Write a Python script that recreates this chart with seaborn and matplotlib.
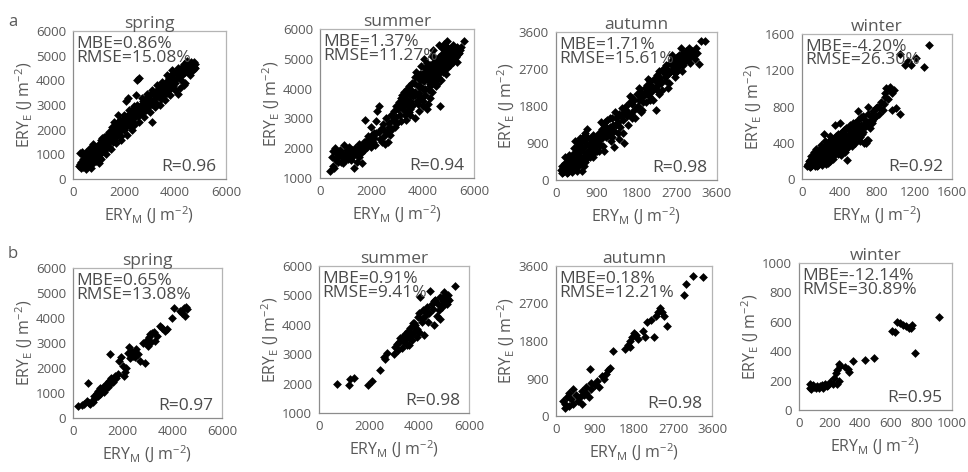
import matplotlib
matplotlib.use('Agg')
import pandas as pd
import matplotlib.pyplot as plt
import seaborn as sns

# Settings
sns.set_style('white')
plt.rcParams['font.family'] = ['Open Sans', 'DejaVu Sans']
plt.rcParams['mathtext.fontset'] = 'custom'
plt.rcParams['mathtext.rm'] = 'Open Sans'
plt.rcParams['mathtext.it'] = 'Open Sans:italic'
plt.rcParams['mathtext.bf'] = 'Open Sans:bold'

# ---- data: (ERY_M, ERY_E) ----
a_spring = [(230,520),(260,1060),(280,620),(300,450),(320,700),(340,1080),(360,540),(380,820),(400,480),(420,640),
    (440,950),(460,560),(480,720),(500,1100),(520,600),(540,850),(560,500),(580,680),(600,1000),(620,760),
    (640,560),(660,900),(680,1250),(700,700),(720,820),(740,1050),(760,620),(780,940),(800,1420),(820,760),
    (840,1150),(860,880),(880,1000),(900,720),(920,1200),(940,860),(960,1050),(980,1350),(1000,900),
    (1020,1150),(1040,1450),(1060,1000),(1080,1300),(1100,1600),(1120,1100),(1150,1400),(1180,1250),(1200,1700),
    (1230,1350),(1260,1550),(1290,1200),(1320,1800),(1350,1450),(1380,1650),(1410,1300),(1440,1900),(1470,1550),
    (1500,1750),(1530,2100),(1560,1500),(1590,1850),(1620,2000),(1650,1650),(1680,2200),(1710,1800),(1740,2000),
    (1770,2600),(1800,1900),(1830,2150),(1860,2400),(1890,1750),(1920,2250),(1950,2050),(1980,2450),
    (2010,2000),(2040,2300),(2070,3150),(2100,2150),(2130,2550),(2160,3300),(2190,2350),(2220,2150),(2250,2650),
    (2280,2450),(2310,2800),(2340,2300),(2370,2600),(2400,2950),(2430,2500),(2460,3400),(2490,2700),(2520,4000),
    (2550,2550),(2580,4100),(2610,2850),(2640,2650),(2670,3000),(2700,2800),(2730,3150),(2760,2700),(2790,3000),
    (2820,2900),(2850,3250),(2880,2800),(2910,3100),(2940,3350),(2970,2950),
    (3000,3200),(3040,3450),(3080,2300),(3110,3050),(3140,3500),(3170,3250),(3200,3400),(3240,3100),(3280,3600),
    (3320,3350),(3360,3500),(3400,3700),(3440,3250),(3480,3550),(3520,3800),(3560,3400),(3600,3650),(3640,3950),
    (3680,3500),(3720,3800),(3760,4100),(3800,3650),(3840,3900),(3880,4250),(3920,3750),(3960,4050),
    (4000,3900),(4040,4300),(4080,4100),(4110,3450),(4140,4400),(4180,4200),(4220,4000),(4260,4450),(4300,4250),
    (4340,3800),(4370,4550),(4400,4350),(4430,4700),(4460,4450),(4490,4800),(4520,4550),(4550,4300),(4580,4650),
    (4610,4500),(4640,4750),(4670,4400),(4700,4650),(4730,4550),(4760,4750),(4790,4500),(4800,4650),
    (900,1300),(1000,650),(1100,800),(1200,1400),(1300,1000),(1400,1900),(1500,1200),(1600,2300),(1700,1450),
    (1800,2350),(1900,1600),(2000,2600),(2100,1800),(2200,2800),(2300,2000),(2400,2200),(2500,3000),(2600,2300),
    (2700,3300),(2800,2500),(2900,3450),(3000,2700),(3100,3600),(3200,2900),(3300,3800),(3400,3000),(3500,3950),
    (3600,3200),(3700,4200),(3800,3400),(3900,4400),(4000,3600),(4100,4500),(4200,3700),(4300,4600),(4400,3900),
    (4500,4550),(4600,4200),(4700,4400),(4350,4650),(500,400),(700,450),(900,1000),(1150,1650),(1350,1700)]

a_summer = [(400,1250),(480,1700),(520,1900),(560,1350),(600,2000),(640,1600),(680,1800),(720,1700),(760,1950),
    (800,1550),(840,1850),(880,1700),(920,2100),(960,1800),(1000,1650),(1040,1950),(1080,1750),(1120,2050),
    (1160,1850),(1200,1600),(1240,1950),(1280,1750),(1320,1350),(1360,2000),(1400,1800),(1440,1550),(1480,1900),
    (1520,1700),(1560,2050),(1600,1850),(1640,1500),(1680,2100),(1720,1950),
    (1760,2950),(1800,2250),(1840,2050),(1880,2400),(1920,2150),(1960,2300),(2000,2050),(2040,2450),(2080,2200),
    (2120,2350),(2160,2100),(2200,2500),(2240,3250),(2280,3400),(2320,2300),(2360,2650),(2400,2200),(2440,2800),
    (2480,2400),(2520,2150),(2560,3000),(2600,2550),(2640,2200),(2680,2850),(2720,2450),(2760,3100),(2800,2650),
    (2840,2950),(2880,3250),(2920,2700),(2960,3050),(3000,2850),
    (3040,3300),(3080,3550),(3120,3100),(3160,3700),(3200,3350),(3240,3550),(3280,3900),(3320,3250),(3360,3650),
    (3400,3450),(3440,3850),(3480,4100),(3520,3600),(3560,3950),(3600,3400),(3640,3750),(3680,4200),(3700,3000),
    (3720,3900),(3760,3600),(3800,4400),(3840,3850),(3880,4100),(3920,3700),(3960,4500),(4000,4000),(4040,4250),
    (4080,3800),(4120,4600),(4160,4350),(4200,3500),(4240,4700),(4280,4150),(4320,4450),(4360,3900),(4400,4800),
    (4440,4550),(4480,4250),(4520,5000),(4560,4650),(4600,4400),(4640,4900),(4680,3400),(4720,4750),(4760,5150),
    (4800,4550),(4840,5500),(4880,4850),(4920,5200),(4960,4700),(5000,5350),(5040,5000),(5080,4800),(5120,5300),
    (5160,5100),(5200,4900),(5240,5250),(5280,5050),(5320,5400),(5360,5150),(5400,5200),(5450,5300),(5600,5600),
    (3300,3800),(3500,3300),(3700,4400),(3900,4300),(4100,4000),(4300,4800),(4500,4400),(4700,4600),(4900,5100),
    (5100,5150),(4200,4500),(4400,4300),(4600,4800),(4800,5000),(5000,4900),(3600,3500),(3800,3800),(4000,3600),
    (4100,4400),(4250,3950),(4450,4900),(4650,5050),(4850,4700),(4950,5400),(4750,5350),(4550,4150),(3350,2950),
    (3450,3200),(2950,3400),(3150,2900),(4050,5000),(4350,5100),(4150,3300),(3850,3250),
    (3200,3800),(3300,3500),(3400,4000),(3500,3800),(3600,4200),(3700,3800),(3800,4100),(3900,4500),(4000,4300),
    (4100,4700),(4200,4300),(4300,4100),(4400,4600),(4500,4800),(4600,4500),(4700,5100),(4800,4800),(4900,5300),
    (5000,5100),(5100,5000),(5200,5200),(5300,5300),(4900,4500),(4700,4300),(4500,4100),(4300,3700),(4000,3400),
    (3800,3500),(3500,3100),(3300,3100),(3100,3400),(2900,2900),(2700,2700),(2500,2600),(2300,2550),(2100,2500),
    (1900,2300),(1700,2200),(1500,2150),(1300,1900),(1100,1650),(900,1500),(700,1550),(500,1400),(2000,2700),
    (2200,2900),(4650,5450),(4950,5600),(5200,5450),(5350,4900),(5500,5400),(4400,5300),(4150,4850),(3950,4750),
    (3750,4550)]

a_autumn = [(120,250),(140,350),(160,200),(180,300),(200,420),(220,250),(240,180),(260,350),(280,480),(300,260),
    (320,400),(340,560),(360,300),(380,450),(400,650),(420,350),(440,520),(460,760),(480,400),(500,600),
    (520,850),(540,480),(560,700),(580,950),(600,550),(620,800),(640,1000),(660,650),(680,900),(700,1050),
    (720,700),(740,850),(760,1000),(780,600),(800,900),(820,1100),(840,750),(860,950),(880,800),(900,1050),
    (920,700),(940,900),(960,1150),(980,850),(1000,1000),
    (150,280),(250,220),(350,380),(450,300),(550,380),(650,450),(750,550),(850,650),(300,600),(400,780),
    (500,900),(600,1050),(700,1250),(200,550),(580,230),(350,200),(470,230),(680,500),(780,760),(880,1000),
    (420,950),(530,1020),(640,1150),(1000,1400),(1100,1300),(130,180),(190,220),(270,200),(330,290),(410,260),
    (490,330),(570,420),(630,330),(710,600),(830,560),(960,700),(1070,700),
    (1020,1250),(1050,820),(1080,1350),(1110,1050),(1140,1450),(1170,1100),(1200,1300),(1230,950),(1260,1500),
    (1290,1200),(1320,1650),(1350,1350),(1380,1150),(1410,1600),(1440,1300),(1470,1750),(1500,1450),(1530,900),
    (1560,1800),(1590,1550),(1620,1350),(1650,1900),(1680,1600),(1710,2000),(1740,1700),(1770,1500),(1800,2100),
    (1830,1800),(1860,1950),(1890,2150),(1920,1700),(1950,2050),(1980,2250),(2010,1900),(2040,2300),(2070,2050),
    (2100,2400),(2130,2150),(2160,1950),(2190,2450),(2220,2250),(2230,1700),(2250,2550),(2280,2300),(2310,2650),
    (2340,2400),(2370,2200),(2400,2700),(2430,2500),(2460,2800),(2490,2550),(2520,2350),(2550,2850),(2580,2650),
    (2610,2950),(2640,2700),(2670,2500),(2700,3000),(2730,2750),(2760,3050),(2790,2850),(2820,2650),(2850,3100),
    (2880,2900),(2910,3150),(2940,2950),(2970,3200),(3000,3000),(3050,3150),(3100,2950),(3150,3100),(3200,2830),
    (3250,3390),(3330,3370),(1100,1400),(1250,1050),(1400,1000),(1300,800),(1200,1500),(1500,1150),
    (1035,1100),(1095,1200),(1155,1250),(1215,1150),(1275,1350),(1335,1500),(1395,1400),(1455,1550),(1515,1650),
    (1575,1700),(1635,1600),(1695,1850),(1755,1950),(1815,1750),(1875,2050),(1935,1900),(1995,2100),(2055,2200),
    (2115,2300),(2175,2250),(2235,2400),(2295,2500),(2355,2350),(2415,2600),(2475,2700),(2535,2600),(2595,2800),
    (2655,2900),(2715,2850),(2775,2950),(2835,3000),(2895,3050),(2955,3050),(3025,3100),(3075,3050),(3125,3200),
    (2250,2200),(2450,2400),(2650,2600),(2850,2800),(1850,2250),(2050,2450),(1650,2050),(2600,3050),(2800,3200),
    (3000,2850),(2700,2650),(2500,2250),(2300,2100),(2100,1950),(1900,1650),(1700,1500)]

a_winter = [(60,150),(70,200),(80,130),(90,170),(100,250),(110,150),(120,200),(130,300),(140,170),(150,230),
    (160,140),(170,280),(180,190),(190,330),(200,220),(210,160),(220,260),(230,500),(240,200),(250,310),
    (260,240),(270,380),(280,180),(290,280),(300,350),(310,230),(320,420),(330,300),(340,260),(350,390),
    (360,470),(370,320),(380,280),(390,430),(400,360),(410,500),(420,300),(430,450),(440,380),(450,540),
    (460,420),(470,330),(480,210),(490,480),(500,400),(510,600),(520,460),(530,360),(540,520),(550,440),
    (560,620),(570,400),(580,560),(590,480),(600,650),(610,520),(620,420),(630,600),(640,500),(650,560),
    (660,400),(670,650),(680,580),(690,430),(700,720),(720,640),(740,700),(760,750),(780,680),(800,800),
    (820,720),(840,850),(860,760),(880,900),(900,1000),(920,880),(940,980),(960,950),(980,980),(1000,780),
    (1050,720),(1050,1380),(1100,1260),(1130,1300),(1160,1260),(1220,1340),(1300,1240),(1350,1480),
    (75,160),(95,140),(115,180),(135,220),(155,190),(175,150),(195,250),(215,190),(235,300),(255,170),
    (275,260),(295,200),(315,330),(335,220),(355,280),(375,380),(395,300),(415,260),(435,350),(455,300),
    (475,400),(495,350),(135,140),(185,230),(265,340),(305,420),(345,350),(385,360),(425,520),(465,470),
    (505,500),(545,580),(585,520),(625,680),(665,610),(705,620),(745,620),(785,780),(700,430),(680,400),(720,560),
    (65,170),(85,210),(105,190),(125,260),(145,300),(165,210),(185,280),(205,330),(225,230),(245,360),
    (265,280),(285,420),(305,300),(325,380),(345,450),(365,340),(385,500),(405,420),(425,380),(445,480),
    (465,560),(485,440),(505,540),(525,420),(545,620),(565,500),(595,580),(615,460),(635,560),(655,520),
    (350,600),(400,620),(300,480),(250,420),(200,380),(150,330),(100,210),(55,140),(600,750),(650,700),
    (700,800),(750,640),(790,700),(820,800),(870,830),(940,1010),(960,760),(880,950)]

b_spring = [(200,500),(350,520),(450,560),(550,700),(600,1420),(650,620),(700,550),(750,700),(800,650),(850,900),
    (900,800),(950,1000),(1000,900),(1000,1100),(1050,1050),(1100,1200),(1100,950),(1150,1100),(1200,1250),
    (1250,1050),(1300,1300),(1300,1150),(1350,1400),(1400,1250),(1450,1500),(1480,2550),(1500,1350),(1550,1600),
    (1600,1450),(1700,1700),(1750,1600),(1800,1750),(1850,2300),(1950,2450),(2000,2100),(2050,1700),(2100,1850),
    (2150,2000),(2200,2600),(2250,2850),(2300,2400),(2350,2700),(2400,2500),(2450,2600),(2500,2450),(2550,2750),
    (2600,2550),(2700,2300),(2800,3000),(2900,2200),(2950,3100),(3000,2900),(3050,3250),(3100,3350),(3150,3050),
    (3200,3400),(3250,3450),(3300,3100),(3400,3300),(3500,3700),(3600,3600),(3700,3500),(3800,3550),(4000,4000),
    (4050,4400),(4300,4300),(4400,4200),(4450,4400),(4500,4100),(4550,4450),(4600,4350)]

b_summer = [(700,2000),(1200,1950),(1250,2150),(1400,2200),(1950,1950),(2100,2100),(2450,2450),(2600,2900),
    (2650,2850),(2700,3050),(3000,3000),(3050,3250),(3100,3350),(3150,3150),(3200,3400),(3250,3550),(3300,3200),
    (3350,3600),(3400,3400),(3450,3700),(3500,3300),(3550,3800),(3600,3550),(3650,3900),(3700,3700),(3750,4050),
    (3800,3750),(3850,4000),(3900,3600),(3950,4250),(4000,4400),(4050,4950),(4100,4200),(4150,4500),(4200,3650),
    (4250,4300),(4300,4600),(4350,4100),(4400,4400),(4450,5150),(4500,4700),(4550,4550),(4600,4000),(4650,4850),
    (4700,4300),(4750,4700),(4800,4500),(4850,4200),(4900,4900),(4950,4800),(5000,5100),(5050,4950),(5100,4700),
    (5150,5000),(5200,4850),(5450,5330),(3600,3300),(3700,3500),(3800,4050),(3900,3850),(4000,3750),(4100,4100),
    (4300,4400),(4600,4800),(4900,4600),(5000,4750),(4850,4950),(5100,4900),(3500,3550),(3650,3650)]

b_autumn = [(150,350),(200,200),(200,300),(250,450),(300,550),(300,250),(350,400),(400,650),(400,300),(450,500),
    (500,350),(550,450),(600,600),(600,300),(650,500),(700,700),(700,550),(750,450),(800,800),(800,650),
    (780,1130),(900,750),(950,850),(1000,700),(1050,950),(1100,900),(1150,1000),(1200,1100),(1250,1150),
    (1320,1570),(1600,1600),(1650,1700),(1700,1800),(1750,1900),(1800,2000),(1700,1650),(1850,1950),(1900,1850),
    (2000,2050),(2050,1900),(2100,2250),(2200,2300),(2250,1900),(2300,2400),(2350,2500),(2400,2600),(2450,2500),
    (2500,2400),(2550,2150),(2960,2900),(3000,3170),(3150,3350),(3400,3330)]

b_winter = [(70,150),(75,180),(80,140),(85,160),(90,170),(100,155),(110,150),(120,165),(130,150),(140,160),
    (150,170),(160,150),(170,180),(180,160),(190,170),(200,190),(220,180),(230,220),(240,250),(250,270),
    (250,180),(260,200),(260,310),(270,300),(300,290),(320,280),(330,260),(350,335),(430,340),(490,355),
    (610,540),(625,530),(640,600),(660,590),(680,580),(700,570),(720,560),(735,555),(740,575),(760,390),(915,630)]

panels = [a_spring, a_summer, a_autumn, a_winter, b_spring, b_summer, b_autumn, b_winter]
seasons = ['spring', 'summer', 'autumn', 'winter'] * 2
mbe = ['0.86%', '1.37%', '1.71%', '-4.20%', '0.65%', '0.91%', '0.18%', '-12.14%']
rmse = ['15.08%', '11.27%', '15.61%', '26.30%', '13.08%', '9.41%', '12.21%', '30.89%']
r_vals = ['0.96', '0.94', '0.98', '0.92', '0.97', '0.98', '0.98', '0.95']
x_ticks = [[0, 2000, 4000, 6000], [0, 2000, 4000, 6000], [0, 900, 1800, 2700, 3600], [0, 400, 800, 1200, 1600],
           [0, 2000, 4000, 6000], [0, 2000, 4000, 6000], [0, 900, 1800, 2700, 3600], [0, 200, 400, 600, 800, 1000]]
y_ticks = [[0, 1000, 2000, 3000, 4000, 5000, 6000], [1000, 2000, 3000, 4000, 5000, 6000],
           [0, 900, 1800, 2700, 3600], [0, 400, 800, 1200, 1600],
           [0, 1000, 2000, 3000, 4000, 5000, 6000], [1000, 2000, 3000, 4000, 5000, 6000],
           [0, 900, 1800, 2700, 3600], [0, 200, 400, 600, 800, 1000]]

# axes boxes in pixels: left, top, right, bottom
boxes = [(73, 31, 226, 179), (320, 29, 474, 178), (556, 32, 717, 180), (802, 34, 952, 179),
         (73, 268, 222, 418), (319, 266, 469, 413), (556, 266, 712, 416), (799, 263, 952, 410)]

W, H = 968, 472
fig = plt.figure(figsize=(W / 100, H / 100), dpi=100)
txt = '#595959'
note = '#4a4a4a'

for i, pts in enumerate(panels):
    l, t, r, b = boxes[i]
    ax = fig.add_axes([l / W, 1 - b / H, (r - l) / W, (b - t) / H])
    df = pd.DataFrame(pts, columns=['m', 'e'])
    sns.scatterplot(data=df, x='m', y='e', ax=ax, marker='D', color='black', s=20, linewidth=0)
    ax.set_xlim(x_ticks[i][0], x_ticks[i][-1])
    ax.set_ylim(y_ticks[i][0], y_ticks[i][-1])
    ax.set_xticks(x_ticks[i])
    ax.set_yticks(y_ticks[i])
    ax.tick_params(axis='both', labelsize=9.5, labelcolor=txt, color='#8c8c8c',
                   length=3, width=0.8, pad=2, direction='out')
    for side in ['left', 'bottom']:
        ax.spines[side].set_color('#8c8c8c')
        ax.spines[side].set_linewidth(0.9)
    for side in ['top', 'right']:
        ax.spines[side].set_color('#b4b4b4')
        ax.spines[side].set_linewidth(0.9)
    ax.set_xlabel(r'ERY$_\mathregular{M}$ (J m$^\mathregular{-2}$)', fontsize=11.5, color=txt, labelpad=4)
    ax.set_ylabel(r'ERY$_\mathregular{E}$ (J m$^\mathregular{-2}$)', fontsize=11.5, color=txt, labelpad=1)
    ax.set_title(seasons[i], fontsize=12.5, color=txt, pad=2)
    ax.text(0.02, 0.965, 'MBE=' + mbe[i] + '\nRMSE=' + rmse[i], transform=ax.transAxes,
            fontsize=12.5, color=note, ha='left', va='top', linespacing=0.78)
    ax.text(0.94, 0.055, 'R=' + r_vals[i], transform=ax.transAxes, fontsize=12.5, color=note,
            ha='right', va='baseline')

fig.text(13 / W, 1 - 22 / H, 'a', fontsize=12, color=txt, ha='center', va='center')
fig.text(13 / W, 1 - 254 / H, 'b', fontsize=12, color=txt, ha='center', va='center')

fig.savefig('out.png', dpi=100, facecolor='white')
